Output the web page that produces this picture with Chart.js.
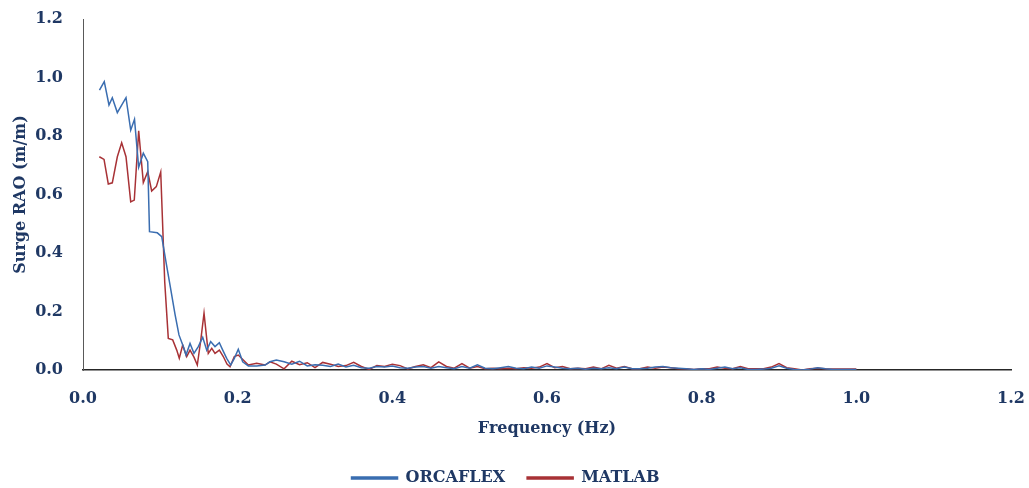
<!DOCTYPE html>
<html>
<head>
<meta charset="utf-8">
<script src="https://cdn.jsdelivr.net/npm/chart.js@4"></script>
<style>
  html, body { margin: 0; padding: 0; background: #fff; }
  #wrap { width: 1029px; height: 488px; }
</style>
</head>
<body>
<div id="wrap"><canvas id="raoChart"></canvas></div>
<script>
// Surge RAO vs frequency
const orcaFreq = [0.0213,0.0275,0.0336,0.0379,0.0444,0.0498,0.0556,0.0617,0.0666,0.0720,0.0780,0.0837,0.0860,0.0961,0.1018,0.1073,0.1132,0.1190,0.1241,0.1297,0.1332,0.1384,0.1435,0.1491,0.1548,0.1600,0.1651,0.1707,0.1763,0.1807,0.1858,0.1910,0.1957,0.2008,0.2065,0.2138,0.2246,0.2354,0.2418,
  0.25,0.26,0.27,0.28,0.29,0.30,0.31,0.32,0.33,0.34,0.35,0.36,0.37,0.38,0.39,0.40,0.41,0.42,0.43,0.44,0.45,0.46,0.47,0.48,0.49,0.50,0.51,0.52,0.53,0.54,0.55,0.56,0.57,0.58,0.59,0.60,0.61,0.62,0.63,0.64,0.65,0.66,0.67,0.68,0.69,0.70,0.71,0.72,0.73,0.74,0.75,0.76,0.77,0.78,0.79,0.80,0.81,0.82,0.83,0.84,0.85,0.86,0.87,0.88,0.89,0.90,0.91,0.92,0.93,0.94,0.95,0.96,0.97,0.98,0.99,1.00];
const orcaRao = [0.957,0.986,0.906,0.931,0.880,0.905,0.931,0.820,0.857,0.693,0.741,0.712,0.473,0.469,0.456,0.370,0.280,0.190,0.120,0.080,0.051,0.091,0.057,0.080,0.112,0.068,0.097,0.080,0.093,0.068,0.040,0.017,0.040,0.071,0.028,0.014,0.014,0.017,0.028,
  0.034,0.028,0.020,0.030,0.014,0.018,0.016,0.012,0.020,0.010,0.016,0.008,0.006,0.012,0.010,0.014,0.008,0.006,0.010,0.012,0.006,0.012,0.008,0.004,0.012,0.006,0.018,0.006,0.004,0.008,0.012,0.006,0.004,0.010,0.006,0.014,0.010,0.006,0.004,0.006,0.003,0.006,0.004,0.008,0.004,0.010,0.004,0.004,0.006,0.010,0.012,0.008,0.006,0.004,0.002,0.004,0.002,0.006,0.010,0.004,0.008,0.002,0.002,0.003,0.006,0.014,0.006,0.002,0.000,0.003,0.008,0.004,0.002,0.002,0.002,0.002];

const matlabFreq = [0.0211,0.0272,0.0327,0.0379,0.0444,0.0500,0.0556,0.0617,0.0663,0.0720,0.0780,0.0837,0.0888,0.0948,0.1005,0.1057,0.1103,0.1160,0.1212,0.1245,0.1289,0.1341,0.1384,0.1435,0.1478,0.1522,0.1565,0.1620,0.1665,0.1707,0.1763,0.1814,0.1862,0.1901,0.1957,0.2008,0.2073,0.2138,0.2246,0.2354,0.2418,
  0.25,0.26,0.27,0.28,0.29,0.30,0.31,0.32,0.33,0.34,0.35,0.36,0.37,0.38,0.39,0.40,0.41,0.42,0.43,0.44,0.45,0.46,0.47,0.48,0.49,0.50,0.51,0.52,0.53,0.54,0.55,0.56,0.57,0.58,0.59,0.60,0.61,0.62,0.63,0.64,0.65,0.66,0.67,0.68,0.69,0.70,0.71,0.72,0.73,0.74,0.75,0.76,0.77,0.78,0.79,0.80,0.81,0.82,0.83,0.84,0.85,0.86,0.87,0.88,0.89,0.90,0.91,0.92,0.93,0.94,0.95,0.96,0.97,0.98,0.99,1.00];
const matlabRao = [0.729,0.720,0.636,0.640,0.729,0.777,0.729,0.575,0.581,0.818,0.641,0.678,0.612,0.627,0.677,0.300,0.108,0.103,0.068,0.040,0.085,0.046,0.068,0.044,0.017,0.100,0.194,0.057,0.074,0.057,0.068,0.046,0.020,0.011,0.046,0.051,0.034,0.017,0.023,0.017,0.028,
  0.020,0.004,0.030,0.018,0.025,0.008,0.026,0.020,0.012,0.015,0.026,0.012,0.002,0.015,0.012,0.020,0.015,0.004,0.012,0.018,0.008,0.028,0.012,0.006,0.022,0.006,0.012,0.004,0.006,0.004,0.006,0.004,0.008,0.006,0.010,0.022,0.008,0.012,0.004,0.006,0.004,0.010,0.004,0.016,0.006,0.012,0.004,0.004,0.010,0.006,0.010,0.008,0.004,0.004,0.002,0.004,0.004,0.010,0.006,0.004,0.012,0.004,0.004,0.004,0.010,0.022,0.008,0.004,0.000,0.004,0.006,0.004,0.003,0.003,0.003,0.003];

const axisTicks = [0, 0.2, 0.4, 0.6, 0.8, 1.0, 1.2];

const navy = '#1F3864';
const serif = '"DejaVu Serif", "Liberation Serif", serif';

const toPoints = (xs, ys) => xs.map((x, i) => ({ x: x, y: ys[i] }));

new Chart(document.getElementById('raoChart').getContext('2d'), {
  type: 'line',
  data: {
    datasets: [{
      label: 'ORCAFLEX',
      data: toPoints(orcaFreq, orcaRao),
      borderColor: '#3A6DB0',
      backgroundColor: '#3A6DB0',
      borderWidth: 1.5,
      pointRadius: 0,
      tension: 0
    }, {
      label: 'MATLAB',
      data: toPoints(matlabFreq, matlabRao),
      borderColor: '#A83236',
      backgroundColor: '#A83236',
      borderWidth: 1.5,
      pointRadius: 0,
      tension: 0
    }]
  },
  options: {
    responsive: true,
    maintainAspectRatio: false,
    animation: false,
    layout: { padding: { top: 19, right: 18, left: 0, bottom: -8 } },
    plugins: {
      legend: {
        position: 'bottom',
        labels: {
          boxWidth: 46, boxHeight: 2, padding: 22,
          color: navy,
          font: { family: serif, size: 16, weight: 'bold' }
        }
      },
      tooltip: { enabled: false }
    },
    scales: {
      x: {
        type: 'linear', min: 0, max: 1.2,
        afterBuildTicks: s => { s.ticks = axisTicks.map(v => ({ value: v })); },
        afterFit: s => { s.height = 78; },
        // grid hidden; tickLength only spaces the labels off the axis
        grid: { display: false, drawTicks: true, tickLength: 19 },
        border: { display: true, color: '#262626', width: 1.5 },
        ticks: { color: navy, padding: 0, font: { family: serif, size: 16, weight: 'bold' }, callback: v => v.toFixed(1) },
        title: { display: true, text: 'Frequency (Hz)', color: navy, padding: { top: -5, bottom: 10 }, font: { family: serif, size: 16, weight: 'bold' } }
      },
      y: {
        min: 0, max: 1.2,
        afterBuildTicks: s => { s.ticks = axisTicks.map(v => ({ value: v })); },
        afterFit: s => { s.width = 83; },
        grid: { display: false, drawTicks: true, tickLength: 20 },
        border: { display: true, color: '#595959', width: 1 },
        ticks: { color: navy, padding: 0, font: { family: serif, size: 16, weight: 'bold' }, callback: v => v.toFixed(1) },
        title: { display: true, text: 'Surge RAO (m/m)', color: navy, padding: { top: 11, bottom: 0 }, font: { family: serif, size: 16, weight: 'bold' } }
      }
    }
  }
});
</script>
</body>
</html>
